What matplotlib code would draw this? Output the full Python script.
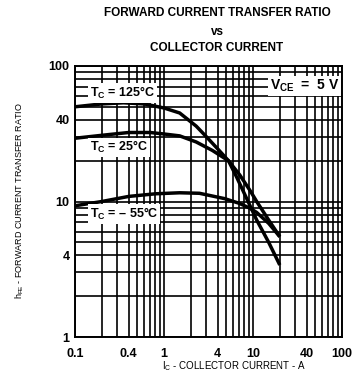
import matplotlib
matplotlib.use('Agg')
import matplotlib.pyplot as plt
from matplotlib.ticker import FixedLocator, NullFormatter, LogLocator

plt.rcParams['font.family'] = 'Liberation Sans'
plt.rcParams['mathtext.fontset'] = 'custom'
plt.rcParams['mathtext.rm'] = 'Liberation Sans'
plt.rcParams['mathtext.bf'] = 'Liberation Sans:bold'

# hFE vs collector current
ic_125 = [0.1, 0.2, 0.35, 0.6, 1.0, 1.5, 2.3, 3.0, 4.0, 5.3, 6.5, 8.5, 11, 15, 20]
hfe_125 = [50, 52.5, 53.5, 52.5, 49, 45, 36, 30, 24.5, 20, 15.3, 10.5, 7.3, 5.0, 3.4]

ic_25 = [0.1, 0.2, 0.4, 0.7, 1.0, 1.5, 2.3, 3.5, 5.3, 7.1, 9.3, 11, 15, 20]
hfe_25 = [29.3, 30.8, 32.3, 32.3, 31.5, 30.5, 27.5, 23.8, 20, 15.7, 12.0, 10.0, 7.3, 5.5]

ic_m55 = [0.1, 0.2, 0.4, 0.8, 1.5, 2.5, 4.8, 7, 9.3, 11, 15, 20]
hfe_m55 = [9.3, 10.0, 10.9, 11.4, 11.6, 11.5, 10.5, 9.7, 8.9, 8.3, 6.9, 5.5]

xticks = [0.1, 0.4, 1, 4, 10, 40, 100]
xticklabels = ['0.1', '0.4', '1', '4', '10', '40', '100']
yticks = [1, 4, 10, 40, 100]
yticklabels = ['1', '4', '10', '40', '100']

fig = plt.figure(figsize=(3.54, 3.75), dpi=100)
ax = fig.add_axes([0.2119, 0.1013, 0.7542, 0.7227])
ax.set_xscale('log')
ax.set_yscale('log')
ax.set_xlim(0.1, 100)
ax.set_ylim(1, 100)

ax.xaxis.set_major_locator(FixedLocator(xticks))
ax.set_xticklabels(xticklabels)
ax.yaxis.set_major_locator(FixedLocator(yticks))
ax.set_yticklabels(yticklabels)
for axis in (ax.xaxis, ax.yaxis):
    axis.set_minor_locator(LogLocator(base=10, subs=range(1, 10)))
    axis.set_minor_formatter(NullFormatter())
ax.tick_params(which='both', length=0)
ax.tick_params(axis='x', pad=8, labelsize=9)
ax.tick_params(axis='y', pad=4, labelsize=9)
for lab in ax.get_xticklabels() + ax.get_yticklabels():
    lab.set_fontweight('bold')

ax.grid(which='both', color='black', lw=1.2)
ax.set_axisbelow(True)
for s in ax.spines.values():
    s.set_linewidth(1.4)

for x, y in [(ic_125, hfe_125), (ic_25, hfe_25), (ic_m55, hfe_m55)]:
    ax.plot(x, y, color='black', lw=2.5, solid_capstyle='butt', zorder=3)

box = dict(facecolor='white', edgecolor='none', pad=1.2)
ax.text(0.056, 0.90, r'$\mathbf{T_C}$ = 125°C', transform=ax.transAxes,
        fontsize=9, fontweight='bold', ha='left', va='center', bbox=box, zorder=4)
ax.text(0.056, 0.70, r'$\mathbf{T_C}$ = 25°C', transform=ax.transAxes,
        fontsize=9, fontweight='bold', ha='left', va='center', bbox=box, zorder=4)
ax.text(0.056, 0.454, r'$\mathbf{T_C}$ = – 55°C', transform=ax.transAxes,
        fontsize=9, fontweight='bold', ha='left', va='center', bbox=box, zorder=4)
ax.text(0.99, 0.926, r'$\mathbf{V_{CE}}$  =  5 V', transform=ax.transAxes,
        fontsize=10, fontweight='bold', ha='right', va='center', bbox=box, zorder=4)

fig.text(0.613, 0.965, 'FORWARD CURRENT TRANSFER RATIO', fontsize=8.5,
         fontweight='bold', ha='center', va='center')
fig.text(0.613, 0.915, 'vs', fontsize=8.5, fontweight='bold', ha='center', va='center')
fig.text(0.613, 0.872, 'COLLECTOR CURRENT', fontsize=8.5,
         fontweight='bold', ha='center', va='center')

fig.text(0.661, 0.024, r'I$_\mathrm{C}$ - COLLECTOR CURRENT - A', fontsize=7,
         ha='center', va='center')
fig.text(0.056, 0.465, r'h$_\mathrm{FE}$ - FORWARD CURRENT TRANSFER RATIO', fontsize=6.5,
         ha='center', va='center', rotation=90)

fig.savefig('out.png', dpi=100)
